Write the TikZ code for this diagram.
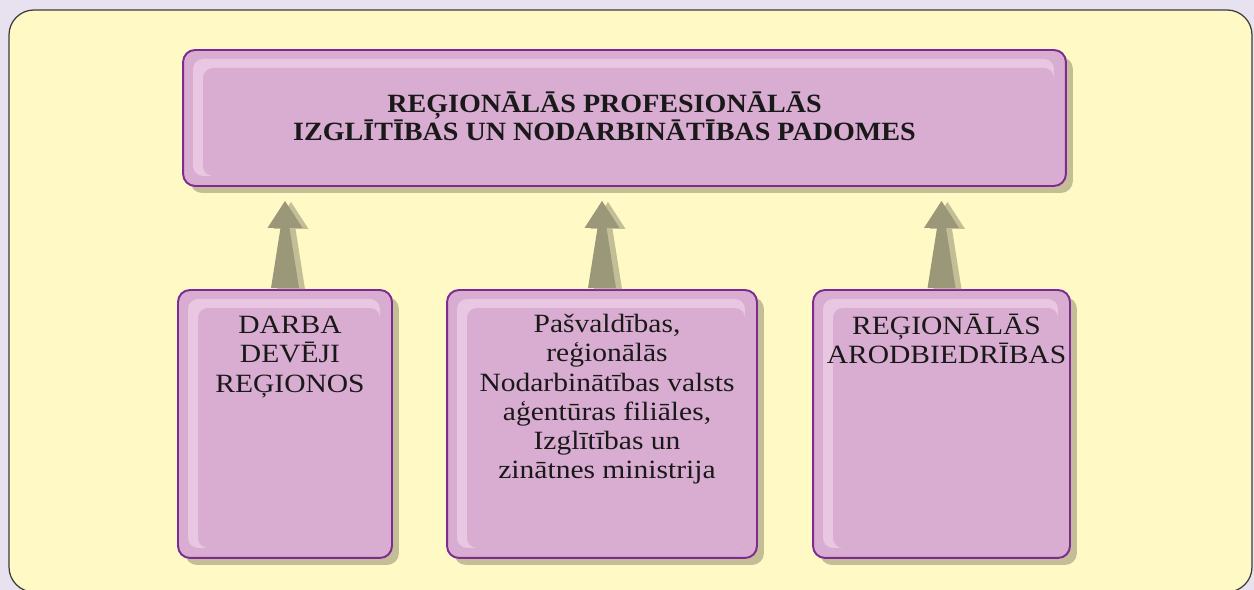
\documentclass[tikz,border=0pt]{standalone}
\usepackage{fontspec}
\setmainfont{Liberation Serif}[FakeStretch=1.12]
\newfontfamily\titlefont{Liberation Serif}[FakeStretch=1.065]
\usepackage{xcolor}
\usepackage{tikz}
\usetikzlibrary{positioning, calc, shadows}
\definecolor{pagebg}{HTML}{E8E1EF}
\definecolor{sheet}{HTML}{FFFAC5}
\definecolor{sheetline}{HTML}{3A3A3A}
\definecolor{panelfill}{HTML}{D9ADD1}
\definecolor{panelhi}{HTML}{E9C6E1}
\definecolor{panelline}{HTML}{7E2A92}
\definecolor{shadowc}{HTML}{C4BE96}
\definecolor{arrowc}{HTML}{9A9878}
\tikzstyle{panel} = [rectangle, draw=panelline, line width=1.1pt, fill=panelfill, rounded corners=0.24cm,
  drop shadow={shadow xshift=0.14cm, shadow yshift=-0.14cm, fill=shadowc, opacity=1},
  path picture={
    \fill[panelhi, rounded corners=0.2cm] ([xshift=0.2cm, yshift=-0.18cm]path picture bounding box.north west) rectangle ([xshift=-0.24cm, yshift=0.2cm]path picture bounding box.south east);
    \fill[panelfill, rounded corners=0.2cm] ([xshift=0.4cm, yshift=-0.36cm]path picture bounding box.north west) rectangle ([xshift=-0.24cm, yshift=0.2cm]path picture bounding box.south east);
  }]
\tikzstyle{panetext} = [align=center, inner sep=0pt, text=black!90, font=\fontsize{15}{16.6}\selectfont]
\tikzstyle{titletext} = [panetext, font=\fontsize{15}{16}\selectfont\titlefont\bfseries]
\tikzstyle{uparrow} = [fill=arrowc, drop shadow={shadow xshift=0.12cm, shadow yshift=-0.02cm, fill=shadowc, opacity=1}]
\newcommand\fatarrow[2]{%
  \fill[uparrow] ($(#1.north)+(-14,1)$) -- ($(#1.north |- #2.south)+(-4.5,-41)$)
    -- ($(#1.north |- #2.south)+(-17.5,-41)$) -- ($(#1.north |- #2.south)+(0,-14)$)
    -- ($(#1.north |- #2.south)+(17.5,-41)$) -- ($(#1.north |- #2.south)+(4.5,-41)$)
    -- ($(#1.north)+(14,1)$) -- cycle;}

\begin{document}
\begin{tikzpicture}[x=0.02cm, y=0.02cm]

  % Background
  \fill[pagebg] (0,0) rectangle (1254,590);
  \useasboundingbox (0,0) rectangle (1254,590);
  \filldraw[fill=sheet, draw=sheetline, line width=0.7pt, rounded corners=0.5cm] (9,580) rectangle (1252,-2);

  % Nodes
  \node (council) [panel, minimum width=17.66cm, minimum height=2.72cm] at (624.5,472) {};
  \node (employers) [panel, minimum width=4.28cm, minimum height=5.36cm] at (285,166) {};
  \node (agencies) [panel, minimum width=6.2cm, minimum height=5.36cm] at (602,166) {};
  \node (unions) [panel, minimum width=5.14cm, minimum height=5.36cm] at (941.5,166) {};

  % Texts
  \node (councilname) [titletext] at ([xshift=-0.4cm, yshift=0.03cm]council.center) {REĢIONĀLĀS PROFESIONĀLĀS\\IZGLĪTĪBAS UN NODARBINĀTĪBAS PADOMES};
  \node (employersname) [panetext, below=0.54cm of employers.north, xshift=0.1cm] {DARBA\\DEVĒJI\\REĢIONOS};
  \node (agenciesname) [panetext, below=0.5cm of agencies.north, xshift=0.1cm] {Pašvaldības,\\reģionālās\\Nodarbinātības valsts\\aģentūras filiāles,\\Izglītības un\\zinātnes ministrija};
  \node (unionsname) [panetext, below=0.5cm of unions.north, xshift=0.1cm] {REĢIONĀLĀS\\ARODBIEDRĪBAS};

  % Arrows
  \fatarrow{employers}{council}
  \fatarrow{agencies}{council}
  \fatarrow{unions}{council}

\end{tikzpicture}
\end{document}
